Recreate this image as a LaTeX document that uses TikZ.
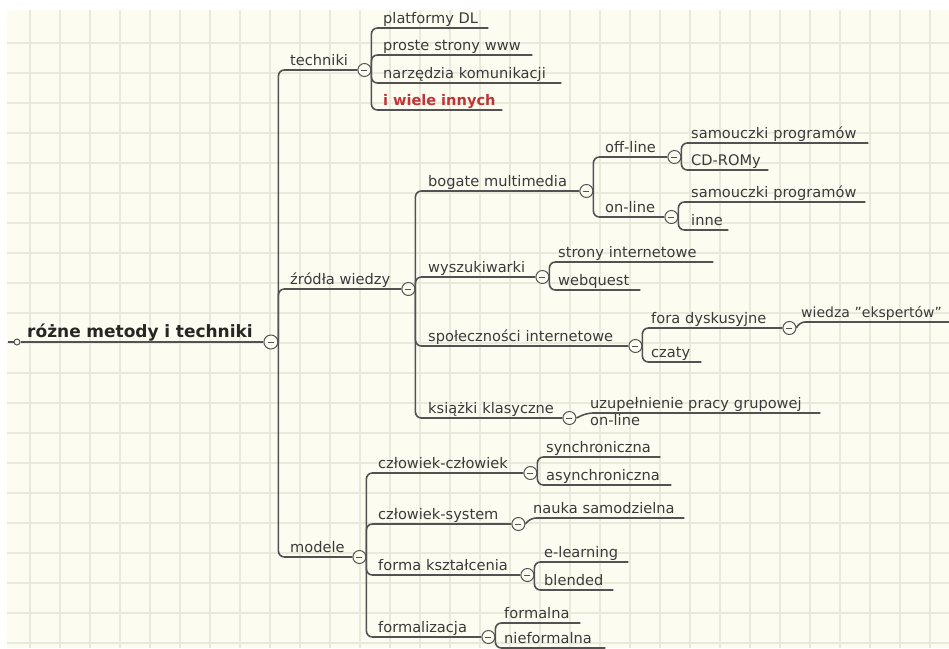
\documentclass[tikz,border=0pt]{standalone}
\usepackage{fontspec}
\setmainfont{DejaVu Sans}
\usetikzlibrary{positioning}
\definecolor{paper}{RGB}{252,252,240}
\definecolor{gridc}{RGB}{232,235,220}
\definecolor{linec}{RGB}{82,82,82}
\definecolor{textc}{RGB}{58,58,58}
\definecolor{redc}{RGB}{192,52,56}
\tikzset{
  topic/.style={anchor=south west, inner xsep=3pt, inner ysep=2.5pt, text depth=1.5pt,
    font=\fontsize{14.6}{17}\selectfont, text=textc},
  link/.style={draw=linec, line width=1.6pt, rounded corners=6pt},
  fold/.style={circle, draw=linec, line width=1pt, fill=paper, minimum size=13pt, inner sep=0pt,
    path picture={\draw[linec, line width=0.9pt] ([xshift=-3pt]path picture bounding box.center)
      -- ([xshift=3pt]path picture bounding box.center);}},
}
\begin{document}
\begin{tikzpicture}[x=1pt, y=-1pt]
  \useasboundingbox (0,0) rectangle (949,648);
  \clip (0,0) rectangle (949,648);
  % squared paper
  \fill[white] (0,0) rectangle (949,648);
  \fill[paper] (7,10) rectangle (949,648);
  \foreach \gx in {30,60,...,930} \draw[gridc, line width=1.3pt] (\gx,10) -- (\gx,648);
  \foreach \gy in {43,73,...,643} \draw[gridc, line width=1.3pt] (7,\gy) -- (949,\gy);

  % root
  \node[circle, draw=linec, line width=1pt, fill=paper, minimum size=6pt, inner sep=0pt] (start) at (17,342) {};
  \node[topic, font=\bfseries\fontsize{17}{20}\selectfont, text=black!85, inner xsep=7pt, text width=229pt] (root) at (20,342) {różne metody i techniki};
  \draw[link] ([xshift=-6pt]start.west) -- (start.west);
  \draw[link] (start.east) -- (root.south east);
  \node[fold, minimum size=14pt, right=0pt of root.south east] (root-f) {};

  % level 1
  \node[topic, text width=64pt] (tech) at (287,70) {techniki};
  \node[topic, text width=108pt] (zrodla) at (287,289) {źródła wiedzy};
  \node[topic, text width=59pt] (modele) at (287,557) {modele};
  \foreach \n in {tech,zrodla,modele} {
    \draw[link] (root-f.east) |- (\n.south east);
    \node[fold, right=0pt of \n.south east] (\n-f) {};
  }

  % techniki
  \node[topic, text width=102pt] (platf) at (380,28) {platformy DL};
  \node[topic, text width=146pt] (strony) at (380,55) {proste strony www};
  \node[topic, text width=175pt] (narz) at (380,83) {narzędzia komunikacji};
  \node[topic, text width=116pt, text=redc, font=\bfseries\fontsize{14.6}{17}\selectfont] (wiele) at (380,110) {i wiele innych};
  \foreach \n in {platf,strony,narz,wiele}
    \draw[link] (tech-f.east) |- (\n.south east);

  % zrodla wiedzy
  \node[topic, text width=148pt] (bogate) at (425,191) {bogate multimedia};
  \node[topic, text width=104pt] (wysz) at (425,277) {wyszukiwarki};
  \node[topic, text width=197pt] (spol) at (425,346) {społeczności internetowe};
  \node[topic, text width=131pt] (ksiazki) at (425,418) {książki klasyczne};
  \foreach \n in {bogate,wysz,spol,ksiazki} {
    \draw[link] (zrodla-f.east) |- (\n.south east);
    \node[fold, right=0pt of \n.south east] (\n-f) {};
  }

  % bogate multimedia
  \node[topic, text width=59pt] (off) at (602,157) {off-line};
  \node[topic, text width=56pt] (on) at (602,217) {on-line};
  \foreach \n in {off,on} {
    \draw[link] (bogate-f.east) |- (\n.south east);
    \node[fold, right=0pt of \n.south east] (\n-f) {};
  }
  \node[topic, text width=174pt] (samo-off) at (688,143) {samouczki programów};
  \node[topic, text width=74pt] (cdrom) at (688,170) {CD-ROMy};
  \node[topic, text width=171pt] (samo-on) at (688,202) {samouczki programów};
  \node[topic, text width=34pt] (inne) at (688,230) {inne};
  \foreach \n in {samo-off,cdrom} \draw[link] (off-f.east) |- (\n.south east);
  \foreach \n in {samo-on,inne} \draw[link] (on-f.east) |- (\n.south east);

  % wyszukiwarki
  \node[topic, text width=152pt] (strint) at (555,262) {strony internetowe};
  \node[topic, text width=79pt] (webq) at (555,290) {webquest};
  \foreach \n in {strint,webq} \draw[link] (wysz-f.east) |- (\n.south east);

  % spolecznosci internetowe
  \node[topic, text width=128pt] (fora) at (648,328) {fora dyskusyjne};
  \node[topic, text width=47pt] (czaty) at (648,362) {czaty};
  \foreach \n in {fora,czaty} \draw[link] (spol-f.east) |- (\n.south east);
  \node[fold, right=0pt of fora.south east] (fora-f) {};
  \node[topic, inner xsep=2pt, text width=146pt, font=\fontsize{14}{17}\selectfont] (eksp) at (799,322) {wiedza "ekspertów"};
  \draw[link] (fora-f.east) -- (eksp.south west) -- ++(152,0);

  % ksiazki klasyczne
  \node[topic, text width=227pt] (uzup) at (587,413) {uzupełnienie pracy grupowej\\on-line};
  \draw[link] (ksiazki-f.east) -- (uzup.south west) -- (uzup.south east);

  % modele
  \node[topic, text width=142pt] (czcz) at (375,473) {człowiek-człowiek};
  \node[topic, text width=130pt] (czsys) at (375,524) {człowiek-system};
  \node[topic, text width=139pt] (forma) at (375,575) {forma kształcenia};
  \node[topic, text width=100pt] (formal) at (375,637) {formalizacja};
  \foreach \n in {czcz,czsys,forma,formal} {
    \draw[link] (modele-f.east) |- (\n.south east);
    \node[fold, right=0pt of \n.south east] (\n-f) {};
  }
  \node[topic, text width=111pt] (sync) at (543,457) {synchroniczna};
  \node[topic, text width=122pt] (async) at (543,485) {asynchroniczna};
  \foreach \n in {sync,async} \draw[link] (czcz-f.east) |- (\n.south east);
  \node[topic, text width=148pt] (nauka) at (530,518) {nauka samodzielna};
  \draw[link] (czsys-f.east) -- (nauka.south west) -- (nauka.south east);
  \node[topic, text width=81pt] (elearn) at (541,562) {e-learning};
  \node[topic, text width=66pt] (blend) at (541,590) {blended};
  \foreach \n in {elearn,blend} \draw[link] (forma-f.east) |- (\n.south east);
  \node[topic, text width=73pt] (fml) at (501,623) {formalna};
  \node[topic, text width=98pt] (nfml) at (501,648) {nieformalna};
  \foreach \n in {fml,nfml} \draw[link] (formal-f.east) |- (\n.south east);
\end{tikzpicture}
\end{document}
